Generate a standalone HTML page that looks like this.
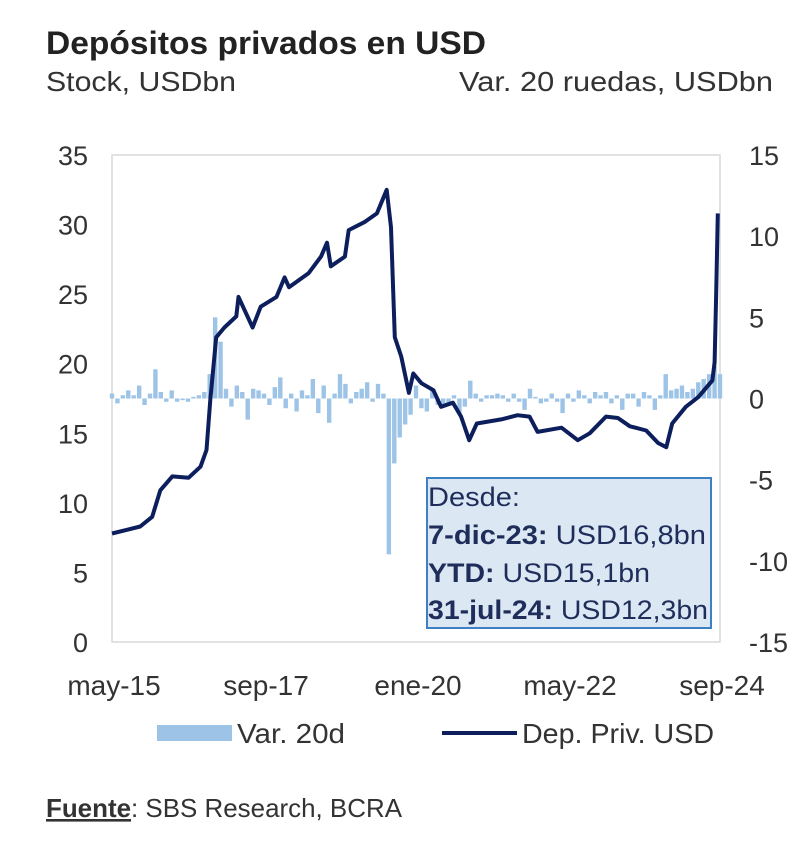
<!DOCTYPE html>
<html><head><meta charset="utf-8">
<style>
body{margin:0;background:#fff;font-family:"Liberation Sans",sans-serif;}
svg text{font-family:"Liberation Sans",sans-serif;}
</style></head>
<body>
<svg width="800" height="844" viewBox="0 0 800 844">
<text x="46" y="54" font-size="32" font-weight="bold" fill="#222" textLength="440" lengthAdjust="spacingAndGlyphs">Depósitos privados en USD</text>
<text x="46" y="91" font-size="28" fill="#333" textLength="190" lengthAdjust="spacingAndGlyphs">Stock, USDbn</text>
<text x="459" y="91" font-size="28" fill="#333" textLength="314" lengthAdjust="spacingAndGlyphs">Var. 20 ruedas, USDbn</text>
<rect x="112" y="155" width="608" height="487" fill="none" stroke="#d9d9d9" stroke-width="1.5"/>
<g id="axes"></g>
<g id="bars"></g>
<g id="line"></g>
<g>
<rect x="427" y="478" width="284" height="150" fill="#dce7f4" stroke="#3f7fc4" stroke-width="2"/>
<text x="428" y="506" font-size="27" fill="#1f2d5a" textLength="92" lengthAdjust="spacingAndGlyphs">Desde:</text>
<text x="428" y="544" font-size="27" fill="#1f2d5a" textLength="278" lengthAdjust="spacingAndGlyphs"><tspan font-weight="bold">7-dic-23:</tspan> USD16,8bn</text>
<text x="428" y="582" font-size="27" fill="#1f2d5a" textLength="222" lengthAdjust="spacingAndGlyphs"><tspan font-weight="bold">YTD:</tspan> USD15,1bn</text>
<text x="428" y="619" font-size="27" fill="#1f2d5a" textLength="280" lengthAdjust="spacingAndGlyphs"><tspan font-weight="bold">31-jul-24:</tspan> USD12,3bn</text>
</g>
<g>
<rect x="157" y="725" width="75" height="16" fill="#9dc3e6"/>
<text x="237" y="743" font-size="28" fill="#333" textLength="108" lengthAdjust="spacingAndGlyphs">Var. 20d</text>
<line x1="442" y1="733" x2="517" y2="733" stroke="#0c1f5c" stroke-width="4"/>
<text x="522" y="743" font-size="28" fill="#333" textLength="192" lengthAdjust="spacingAndGlyphs">Dep. Priv. USD</text>
</g>
<text x="46" y="817" font-size="26" fill="#333" textLength="356" lengthAdjust="spacingAndGlyphs"><tspan font-weight="bold" text-decoration="underline">Fuente</tspan>: SBS Research, BCRA</text>
</svg>
<script>
const xTickLabels=["may-15","sep-17","ene-20","may-22","sep-24"];
const xTickMonths=[0,28,56,84,112];
const leftTicks=[0,5,10,15,20,25,30,35];
const rightTicks=[-15,-10,-5,0,5,10,15];
const depMonths=[0,5.2,7.4,8.9,11.1,14.1,16.3,17.4,18.1,19.2,20.7,22.9,23.3,25.9,27.4,30.3,31.8,32.6,36.2,38.5,39.6,40.3,42.9,43.6,46.6,48.8,50.6,51.4,52.1,53.3,54.7,55.5,57.0,59.2,60.6,62.8,64.3,65.8,67.2,71.7,74.7,76.9,78.4,82.8,85.8,88.0,91.0,93.2,95.4,98.4,100.6,102.1,103.2,105.7,108,110.6,111,111.3,111.6];
const depValues=[7.8,8.3,9.0,10.9,11.9,11.8,12.6,13.8,17.4,21.9,22.6,23.4,24.8,22.6,24.1,24.8,26.2,25.5,26.5,27.7,28.7,27.0,27.7,29.6,30.2,30.8,32.5,29.8,21.9,20.5,17.9,19.3,18.6,18.1,16.9,17.2,16.2,14.5,15.7,16.0,16.3,16.2,15.1,15.4,14.5,15.0,16.2,16.1,15.5,15.2,14.3,14.0,15.7,16.9,17.6,18.8,20.1,25.1,30.8];
const varValues=[0.3,-0.3,0.2,0.5,0.2,0.8,-0.4,0.3,1.8,0.4,-0.2,0.5,-0.2,-0.1,-0.2,0.1,0.2,0.4,1.5,5.0,3.5,0.6,-0.5,0.8,0.4,-1.3,0.6,0.5,0.3,-0.4,0.7,1.3,-0.6,0.3,-0.8,0.5,0.2,1.2,-0.9,0.8,-1.5,0.3,1.5,0.9,-0.3,0.4,0.6,1.0,-0.2,0.9,0.3,-9.6,-4.0,-2.4,-1.6,-1.0,0.8,-0.6,-0.8,0.5,-0.4,-0.5,-0.3,0.2,-0.9,-0.5,1.1,0.3,-0.2,0.2,0.2,0.3,0.2,-0.2,0.3,-0.2,-0.7,0.6,0.1,-0.3,-0.2,0.3,-0.2,-0.9,0.3,-0.2,0.5,0.2,-0.3,0.4,0.2,0.4,-0.3,0.2,-0.7,0.3,0.3,-0.5,0.4,0.2,-0.7,0.2,1.5,0.5,0.6,0.8,0.4,0.6,1.0,1.2,1.5,2.0,1.5];

const NS="http://www.w3.org/2000/svg";
const X0=112,X1=720,Y0=642,Y1=155;
const xs=m=>X0+(X1-X0)*m/112;
const yL=v=>Y0-(Y0-Y1)*v/35;
const yR=v=>Y0-(Y0-Y1)*(v+15)/30;
function mk(tag,attrs,parent){const e=document.createElementNS(NS,tag);for(const k in attrs)e.setAttribute(k,attrs[k]);parent.appendChild(e);return e;}
const axes=document.getElementById('axes');
leftTicks.forEach(v=>{const t=mk('text',{x:88,y:yL(v)+10,'font-size':27,fill:'#333','text-anchor':'end'},axes);t.textContent=v;

});
rightTicks.forEach(v=>{const t=mk('text',{x:749,y:yR(v)+10,'font-size':27,fill:'#333'},axes);t.textContent=v;

});
xTickLabels.forEach((l,i)=>{const t=mk('text',{x:xs(xTickMonths[i])+2,y:695,'font-size':28,fill:'#333','text-anchor':'middle'},axes);t.textContent=l;

});
const bars=document.getElementById('bars');
varValues.forEach((v,i)=>{const y=Math.min(yR(v),yR(0));const h=Math.max(Math.abs(yR(v)-yR(0)),1.5);
const r=mk('rect',{x:xs(i)-2.2,y:y,width:4.4,height:h,fill:'#9dc3e6'},bars);

});
const lg=document.getElementById('line');
const d=depMonths.map((m,i)=>(i?'L':'M')+xs(m).toFixed(1)+','+yL(depValues[i]).toFixed(1)).join(' ');
const p=mk('path',{d:d,fill:'none',stroke:'#0c1f5c','stroke-width':4,'stroke-linejoin':'round'},lg);


</script>
</body></html>
